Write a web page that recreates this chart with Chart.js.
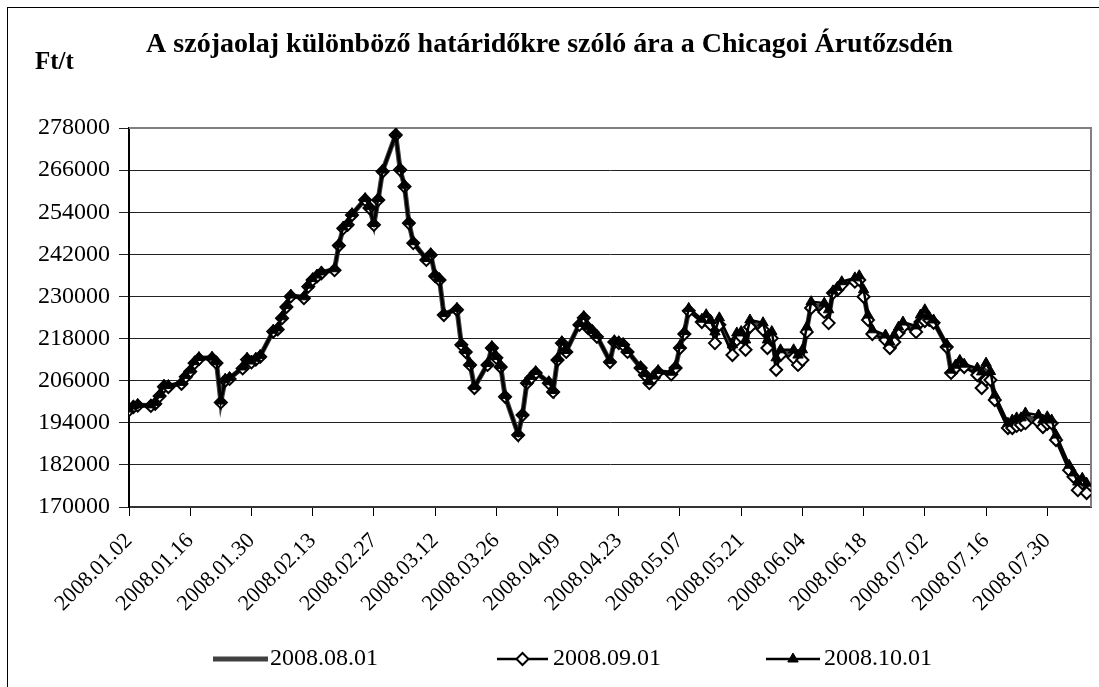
<!DOCTYPE html>
<html>
<head>
<meta charset="utf-8">
<script src="https://cdn.jsdelivr.net/npm/chart.js@4.4.1/dist/chart.umd.min.js"></script>
<style>
  html, body { margin: 0; padding: 0; background: #fff; }
  #wrap { width: 1099px; height: 687px; }
</style>
</head>
<body>
<div id="wrap"><canvas id="grafico" width="1099" height="687"></canvas></div>
<script>
const titulo = "A szójaolaj különböző határidőkre szóló ára a Chicagoi Árutőzsdén";
const unidad = "Ft/t";
const nombres = ["2008.08.01", "2008.09.01", "2008.10.01"];

const fechas = [
  "2008.01.02","2008.01.03","2008.01.04","2008.01.07","2008.01.08","2008.01.09","2008.01.10","2008.01.11","2008.01.14","2008.01.15","2008.01.16","2008.01.17","2008.01.18","2008.01.21","2008.01.22","2008.01.23","2008.01.24","2008.01.25","2008.01.28","2008.01.29","2008.01.30","2008.01.31",
  "2008.02.01","2008.02.04","2008.02.05","2008.02.06","2008.02.07","2008.02.08","2008.02.11","2008.02.12","2008.02.13","2008.02.14","2008.02.15","2008.02.18","2008.02.19","2008.02.20","2008.02.21","2008.02.22","2008.02.25","2008.02.26","2008.02.27","2008.02.28","2008.02.29",
  "2008.03.03","2008.03.04","2008.03.05","2008.03.06","2008.03.07","2008.03.10","2008.03.11","2008.03.12","2008.03.13","2008.03.14","2008.03.17","2008.03.18","2008.03.19","2008.03.20","2008.03.21","2008.03.24","2008.03.25","2008.03.26","2008.03.27","2008.03.28","2008.03.31",
  "2008.04.01","2008.04.02","2008.04.03","2008.04.04","2008.04.07","2008.04.08","2008.04.09","2008.04.10","2008.04.11","2008.04.14","2008.04.15","2008.04.16","2008.04.17","2008.04.18","2008.04.21","2008.04.22","2008.04.23","2008.04.24","2008.04.25","2008.04.28","2008.04.29","2008.04.30",
  "2008.05.01","2008.05.02","2008.05.05","2008.05.06","2008.05.07","2008.05.08","2008.05.09","2008.05.12","2008.05.13","2008.05.14","2008.05.15","2008.05.16","2008.05.19","2008.05.20","2008.05.21","2008.05.22","2008.05.23","2008.05.26","2008.05.27","2008.05.28","2008.05.29","2008.05.30",
  "2008.06.02","2008.06.03","2008.06.04","2008.06.05","2008.06.06","2008.06.09","2008.06.10","2008.06.11","2008.06.12","2008.06.13","2008.06.16","2008.06.17","2008.06.18","2008.06.19","2008.06.20","2008.06.23","2008.06.24","2008.06.25","2008.06.26","2008.06.27","2008.06.30",
  "2008.07.01","2008.07.02","2008.07.03","2008.07.04","2008.07.07","2008.07.08","2008.07.09","2008.07.10","2008.07.11","2008.07.14","2008.07.15","2008.07.16","2008.07.17","2008.07.18","2008.07.21","2008.07.22","2008.07.23","2008.07.24","2008.07.25","2008.07.28","2008.07.29","2008.07.30","2008.07.31",
  "2008.08.01","2008.08.04","2008.08.05","2008.08.06","2008.08.07","2008.08.08"
];

// 2008.08.01 lejárat
const aug = [
  197700,198600,199000,198900,199600,201800,204500,204400,205300,207300,208800,211200,212400,212500,211200,200000,206200,206700,209700,212200,211400,212200,
  213000,220200,220800,224000,227200,230200,229700,233000,234900,235900,236800,237700,244700,249600,250600,253400,257700,255400,250600,257700,265800,
  276100,266200,261500,251100,245400,240600,242000,236000,234900,224900,226400,216400,214400,210700,204100,210700,215500,212700,210100,201600,190700,
  196400,205500,207000,208400,205500,203000,212100,216900,214400,222100,224100,221200,220100,218700,211500,217200,216900,216400,214400,209800,207800,205500,
  207000,208600,208100,209900,215600,219600,226200,223100,224400,222600,218100,222900,214700,218600,219200,216200,222300,221500,216400,219000,210800,214000,
  213600,211900,213300,220600,227600,226800,224300,231300,232200,233700,234700,235300,230900,224000,219900,218300,216100,218000,220400,222000,220700,
  223700,224600,223700,222900,216000,208600,210000,211400,210300,208600,206200,208600,207400,201200,193200,193600,194200,194400,195300,195200,193800,194700,194300,
  189800,181200,179100,176000,177500,175400
];

// 2008.09.01 lejárat
const sep = [
  197600,198500,198900,198800,199400,201600,204300,204200,205100,207100,208600,211000,212200,212300,211000,199800,206000,206500,209500,212000,211200,212000,
  212800,220000,220600,223800,227000,230000,229500,232800,234700,235700,236600,237500,244500,249400,250400,253200,257500,255200,250400,257500,265600,
  276000,266100,261300,250900,245200,240400,241800,235800,234700,224700,226200,216200,214200,210500,203900,210500,215300,212500,209900,201400,190500,
  196200,205300,206800,208200,205300,202800,211900,216700,214200,221900,223900,221000,219900,218500,211300,217000,216700,216200,214200,209600,207600,205300,
  206800,208400,207800,209600,215300,219300,225900,222700,224000,222000,216700,221900,213300,217600,218500,214800,221300,220500,215300,218100,209100,213300,
  212500,210500,211900,219900,226700,225600,222400,231000,231900,233300,234200,234700,229900,223300,219300,217600,215300,217000,219600,221300,219900,
  222700,223000,223300,222500,215600,208200,209600,211000,209900,207600,203900,206200,206200,200500,192500,192500,193100,193400,193900,194200,192800,193700,193900,
  189100,180500,178600,174800,176800,174000
];

// 2008.10.01 lejárat
const okt = [
  197900,198800,199200,199100,199800,202000,204700,204600,205500,207500,209000,211400,212600,212700,211400,200200,206400,206900,209900,212400,211600,212400,
  213200,220400,221000,224200,227400,230400,229900,233200,235100,236100,237000,237900,244900,249800,250800,253600,257900,255600,250800,257900,266000,
  276300,266400,261700,251300,245600,240800,242200,236200,235100,225100,226600,216600,214600,210900,204300,210900,215700,212900,210300,201800,190900,
  196600,205700,207200,208600,205700,203200,212300,217100,214600,222300,224300,221400,220300,218900,211700,217400,217100,216600,214600,210000,208000,205700,
  207300,208900,208400,210200,216000,220000,226600,223500,224800,223200,219900,223900,216200,219600,220000,217600,223300,222500,217600,220000,212500,214800,
  214800,213300,214800,221300,228500,228100,226200,231600,232600,234200,235300,235900,231900,224700,220500,219000,217000,219000,221300,222700,221600,
  224700,226200,224200,223300,216400,209000,210400,211800,210700,209600,208500,211000,208600,201900,193900,194800,195400,195400,196800,196200,194800,195700,194800,
  190500,181900,179700,177100,178200,176800
];

const tickLabels = ["2008.01.02","2008.01.16","2008.01.30","2008.02.13","2008.02.27","2008.03.12","2008.03.26","2008.04.09","2008.04.23","2008.05.07","2008.05.21","2008.06.04","2008.06.18","2008.07.02","2008.07.16","2008.07.30"];

const betu = '"Liberation Serif", "Times New Roman", serif';
const napMs = 86400000;
const napSzam = (s) => {
  const [y, m, d] = s.split(".").map(Number);
  return (Date.UTC(y, m - 1, d) - Date.UTC(2008, 0, 2)) / napMs;
};
const xNapok = fechas.map(napSzam);
const tickNapok = tickLabels.map(napSzam);
const pontok = (vals) => vals.map((v, i) => ({ x: xNapok[i], y: v }));

const datasets = [
  {
    label: nombres[0], data: pontok(aug), order: 3,
    borderColor: "#404040", borderWidth: 5, pointRadius: 0, pointHoverRadius: 0
  },
  {
    label: nombres[1], data: pontok(sep), order: 2,
    borderColor: "#000", borderWidth: 2.5,
    pointStyle: "rectRot", pointRadius: 6, pointBorderWidth: 2,
    pointBackgroundColor: "#fff", pointBorderColor: "#000"
  },
  {
    label: nombres[2], data: pontok(okt), order: 1,
    borderColor: "#000", borderWidth: 2.5,
    pointStyle: "triangle", pointRadius: 6, pointBorderWidth: 1,
    pointBackgroundColor: "#000", pointBorderColor: "#000"
  }
];

const jelmagyarazat = [
  { vonal: [213, 268], szoveg: 270 },
  { vonal: [497, 548], szoveg: 553 },
  { vonal: [766, 820], szoveg: 824 }
];

const dekor = {
  id: "dekor",
  beforeDraw(chart) {
    const ctx = chart.ctx;
    ctx.save();
    ctx.fillStyle = "#fff";
    ctx.fillRect(0, 0, chart.width, chart.height);
    ctx.restore();
  },
  beforeDatasetsDraw(chart) {
    const ctx = chart.ctx;
    const a = chart.chartArea;
    ctx.save();
    ctx.strokeStyle = "#808080";
    ctx.lineWidth = 2;
    ctx.beginPath();
    ctx.moveTo(a.left, a.top);
    ctx.lineTo(a.right, a.top);
    ctx.lineTo(a.right, a.bottom);
    ctx.stroke();
    ctx.restore();
  },
  afterDraw(chart) {
    const ctx = chart.ctx;
    ctx.save();
    ctx.strokeStyle = "#000";
    ctx.lineWidth = 1;
    ctx.strokeRect(7.5, 7.5, 1300, 1300);

    ctx.fillStyle = "#000";
    ctx.font = "bold 28px " + betu;
    ctx.textAlign = "center";
    ctx.textBaseline = "middle";
    ctx.fillText(titulo, 549.5, 45);
    ctx.textAlign = "left";
    ctx.font = "bold 25px " + betu;
    ctx.fillText(unidad, 35, 63);

    ctx.font = "24px " + betu;
    const y = 659;
    chart.data.datasets.forEach((ds, i) => {
      const j = jelmagyarazat[i];
      ctx.strokeStyle = ds.borderColor;
      ctx.lineWidth = ds.borderWidth;
      ctx.beginPath();
      ctx.moveTo(j.vonal[0], y);
      ctx.lineTo(j.vonal[1], y);
      ctx.stroke();
      if (ds.pointRadius > 0) {
        ctx.fillStyle = ds.pointBackgroundColor;
        ctx.strokeStyle = ds.pointBorderColor;
        ctx.lineWidth = ds.pointBorderWidth;
        Chart.helpers.drawPoint(ctx, { pointStyle: ds.pointStyle, radius: ds.pointRadius, borderWidth: ds.pointBorderWidth, rotation: 0 },
          (j.vonal[0] + j.vonal[1]) / 2, y);
      }
      ctx.fillStyle = "#000";
      ctx.fillText(ds.label, j.szoveg, y);
    });
    ctx.restore();
  }
};

new Chart(document.getElementById("grafico"), {
  type: "line",
  data: { datasets },
  options: {
    responsive: false,
    animation: false,
    events: [],
    layout: { padding: { top: 128, right: 2, left: 0, bottom: 0 } },
    plugins: { legend: { display: false }, title: { display: false }, tooltip: { enabled: false } },
    elements: { line: { tension: 0 } },
    scales: {
      x: {
        type: "linear",
        min: 0,
        max: 220,
        afterFit: (s) => { s.height = 180; },
        afterBuildTicks: (s) => { s.ticks = tickNapok.map((v) => ({ value: v })); },
        grid: { drawOnChartArea: false, drawTicks: true, tickLength: 9, color: "#000" },
        border: { color: "#333", width: 2 },
        ticks: {
          autoSkip: false,
          minRotation: 45,
          maxRotation: 45,
          padding: 12,
          color: "#000",
          font: { family: betu, size: 22 },
          callback: (v) => tickLabels[tickNapok.indexOf(v)] || ""
        }
      },
      y: {
        min: 170000,
        max: 278000,
        afterFit: (s) => { s.width = 129; },
        grid: { color: "#222", lineWidth: 1, tickLength: 10 },
        border: { color: "#000", width: 2 },
        ticks: {
          stepSize: 12000,
          padding: 9,
          color: "#000",
          font: { family: betu, size: 24 },
          callback: (v) => String(v)
        }
      }
    }
  },
  plugins: [dekor]
});
</script>
</body>
</html>
